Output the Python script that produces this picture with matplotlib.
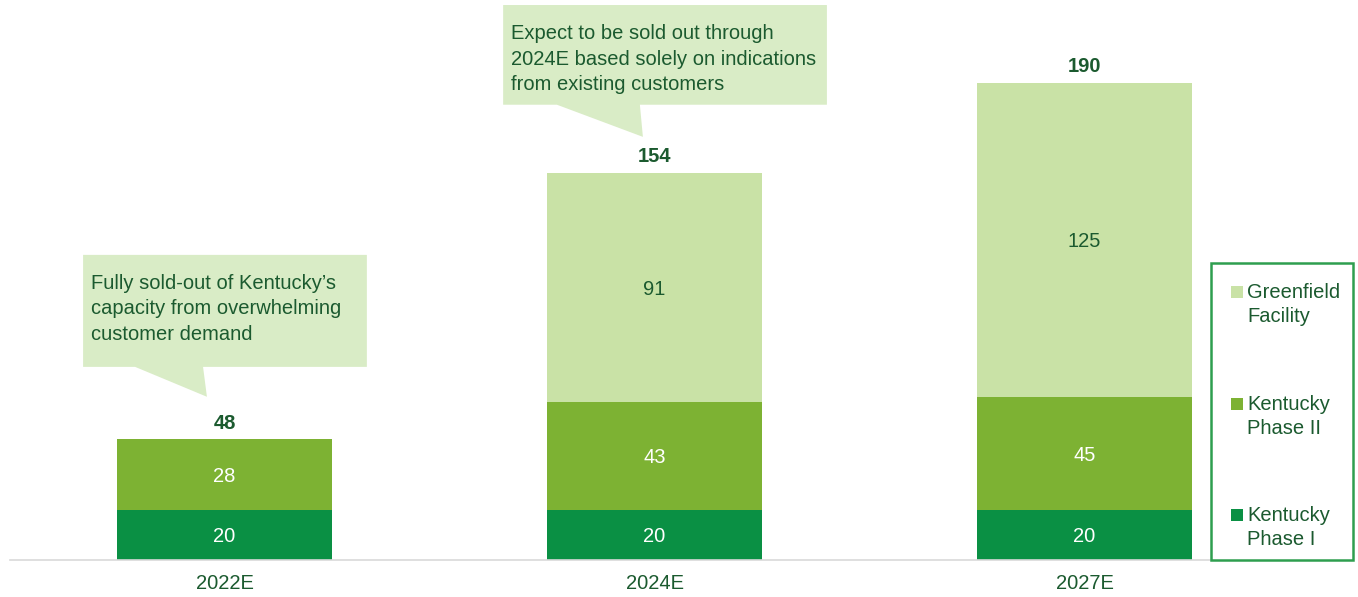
import matplotlib.pyplot as plt
from matplotlib.patches import Polygon, Rectangle

plt.rcParams['font.family'] = ['Liberation Sans', 'DejaVu Sans']

years = ['2022E', '2024E', '2027E']
phase1 = [20, 20, 20]
phase2 = [28, 43, 45]
greenfield = [0, 91, 125]
totals = [48, 154, 190]

seriesNames = ['Greenfield\nFacility', 'Kentucky\nPhase II', 'Kentucky\nPhase I']

colP1 = '#0a9044'
colP2 = '#7db233'
colGF = '#c9e2a6'
colCallout = '#d9ecc6'
darkGreen = '#1b5a2f'
fs = 14.5

W, H = 1358, 597


# pixel (from top-left) -> figure fraction
def px(x, y):
    return x / W, 1 - y / H


fig = plt.figure(figsize=(W / 100, H / 100), dpi=100)
ax = fig.add_axes([10 / W, 37 / H, 1200 / W, 560 / H])

xs = range(len(years))
barW = 0.5
ax.bar(xs, phase1, barW, color=colP1)
ax.bar(xs, phase2, barW, bottom=phase1, color=colP2)
bottom2 = [a + b for a, b in zip(phase1, phase2)]
ax.bar(xs, greenfield, barW, bottom=bottom2, color=colGF)

# segment labels
for i in xs:
    ax.text(i, phase1[i] / 2, str(phase1[i]), ha='center', va='center_baseline',
            color='white', fontsize=fs)
    ax.text(i, phase1[i] + phase2[i] / 2, str(phase2[i]), ha='center',
            va='center_baseline', color='white', fontsize=fs)
    if greenfield[i] > 0:
        ax.text(i, bottom2[i] + greenfield[i] / 2, str(greenfield[i]),
                ha='center', va='center_baseline', color=darkGreen, fontsize=fs)
    ax.text(i, totals[i] + 7.3, str(totals[i]), ha='center', va='center_baseline',
            color=darkGreen, fontsize=fs, fontweight='bold')

ax.set_xlim(-0.499, 2.292)
ax.set_ylim(0, 223)
for s in ['top', 'left', 'right']:
    ax.spines[s].set_visible(False)
ax.spines['bottom'].set_color('#d9d9d9')
ax.spines['bottom'].set_linewidth(1.2)
ax.set_yticks([])
ax.set_xticks(list(xs))
ax.set_xticklabels(years, fontsize=fs, color=darkGreen)
ax.tick_params(axis='x', length=0, pad=10)


# callouts (box + tail), in data coords relative to bar
def callout(i, box, tail, apexY, text):
    x0, x1, y0, y1 = box
    t0, t1, tx = tail
    pts = [(i + x0, y1), (i + x1, y1), (i + x1, y0), (i + t1, y0),
           (i + tx, apexY), (i + t0, y0), (i + x0, y0)]
    ax.add_patch(Polygon(pts, closed=True, facecolor=colCallout,
                         edgecolor='none', zorder=3))
    ax.text(i + x0 + 0.019, y1 - 7.5, text, ha='left', va='top', fontsize=fs,
            color=darkGreen, linespacing=1.45, zorder=4)


callout(0, (-0.329, 0.331, 76.9, 121.5), (-0.208, -0.050, -0.041), totals[0] + 17,
        "Fully sold-out of Kentucky\u2019s\ncapacity from overwhelming\ncustomer demand")
callout(1, (-0.352, 0.401, 181.3, 221), (-0.227, -0.034, -0.027), totals[1] + 14.5,
        "Expect to be sold out through\n2024E based solely on indications\nfrom existing customers")

# legend box
lx, ly = px(1211, 560)
lx2, ly2 = px(1353, 263)
fig.patches.append(Rectangle((lx, ly), lx2 - lx, ly2 - ly, transform=fig.transFigure,
                             facecolor='white', edgecolor='#2e9e4f', linewidth=1.8))
legendCols = [colGF, colP2, colP1]
legendY = [292, 404, 515]
for name, c, yy in zip(seriesNames, legendCols, legendY):
    sx, sy = px(1231, yy + 6)
    fig.patches.append(Rectangle((sx, sy), 12 / W, 12 / H, transform=fig.transFigure,
                                 facecolor=c, edgecolor='none'))
    tx, ty = px(1247, yy - 9)
    fig.text(tx, ty, name, ha='left', va='top', fontsize=fs, color=darkGreen,
             linespacing=1.35)

fig.savefig('out.png', dpi=100)
